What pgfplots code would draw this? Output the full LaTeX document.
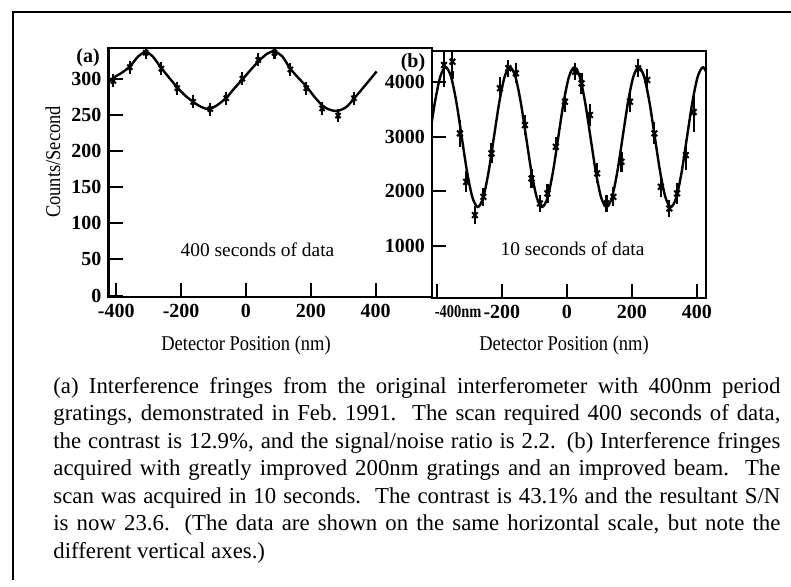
\documentclass[border=0pt]{standalone}
\usepackage{fontspec}
\setmainfont{Liberation Serif}
\newfontfamily\condfont{Liberation Serif}[FakeStretch=0.88]
\newfontfamily\narrowfont{Liberation Serif}[FakeStretch=0.8]
\usepackage{pgfplots}
\usepackage{pgfplotstable}
\pgfplotsset{compat=1.18}

\pgfplotstableread{
x y e
-409 297 4
-358 316 4
-309 336 4
-261 314 4
-212 287 4
-163 268 4
-110 258 4
-61 273 4
-11 300 4
38 326 4
88 336 4
137 313 4
186 287 4
235 259 4
284 249 4
333 273 4
}\dataA

\pgfplotstableread{
x y
-424 295
-410 301
-384 308
-358 317
-332 331
-309 337
-288 331
-263 316
-238 302
-212 288
-188 277
-163 268
-138 261
-115 258
-90 263
-60 274
-35 287
-8 300.5
18 314
43 326
67 335
88 337.5
112 331
136 314.4
162 301
187 289
213 274
240 261.3
263 256.5
283 255.5
310 261
336 274
370 292
403 310
}\curveA

\pgfplotstableread{
x y e
-378 4312 330
-352 4373 250
-329 3058 180
-310 2171 120
-283 1560 90
-257 1896 90
-232 2692 110
-206 3885 130
-180 4252 80
-157 4160 110
-129 3211 110
-109 2233 100
-83 1774 80
-60 1958 100
-34 2813 100
-6 3639 110
25 4190 80
45 3976 120
71 3395 120
93 2325 110
122 1774 80
143 1896 100
168 2538 110
194 3639 120
219 4252 90
247 4037 130
269 3059 130
289 2080 120
315 1683 90
339 1958 120
366 2661 200
390 3450 290
}\dataB

\pgfplotstableread{
x y
-422.5 2990
-406 3630
-389.5 4098.5
-373 4270
-356.5 4098.5
-340 3630
-323.5 2990
-307 2350
-290.5 1881.5
-274 1710
-257.5 1881.5
-241 2350
-224.5 2990
-208 3630
-191.5 4098.5
-175 4270
-158.5 4098.5
-142 3630
-125.5 2990
-109 2350
-92.5 1881.5
-76 1710
-59.5 1881.5
-43 2350
-26.5 2990
-10 3630
6.5 4098.5
23 4270
39.5 4098.5
56 3630
72.5 2990
89 2350
105.5 1881.5
122 1710
138.5 1881.5
155 2350
171.5 2990
188 3630
204.5 4098.5
221 4270
237.5 4098.5
254 3630
270.5 2990
287 2350
303.5 1881.5
320 1710
336.5 1881.5
353 2350
369.5 2990
386 3630
402.5 4098.5
419 4270
435.5 4098.5
}\curveB

\pgfplotsset{
  fringe/.style={
    scale only axis, anchor=south west,
    axis line style={line width=1.1pt},
    every tick/.style={black, line width=1pt},
    major tick length=7.2pt,
    tick align=inside,
    xtick pos=bottom, ytick pos=left,
    ticklabel style={font=\fontsize{10}{12}\selectfont\bfseries},
    xtick={-400,-200,0,200,400},
  },
  errpts/.style={black, only marks, mark=x, mark size=#1,
    mark options={line width=1pt},
    error bars/.cd, y dir=both, y explicit,
    error bar style={line width=1pt},
    error mark options={mark size=#1, line width=1.1pt}},
}

\begin{document}
\begin{tikzpicture}
\path[use as bounding box] (0,0) rectangle (395.5pt,293pt);
% frame
\draw[line width=1.4pt] (6.5pt,3pt) -- (6.5pt,287pt);
\draw[line width=1.4pt] (5.8pt,287pt) -- (395.5pt,287pt);

\begin{axis}[fringe,
  at={(54.25pt,144.5pt)}, width=161.75pt, height=124.5pt,
  xmin=-424, xmax=574, ymin=-2, ymax=342.5,
  xticklabels={-400,-200,0,200,400},
  ytick={0,50,100,150,200,250,300},
  yticklabels={0,50,100,150,200,250,300},
]
\addplot[black, smooth, line width=1.2pt] table[x=x,y=y] {\curveA};
\addplot[errpts=1.8pt] table[x=x,y=y,y error=e] {\dataA};
\end{axis}

\begin{axis}[fringe,
  at={(216pt,144pt)}, width=137pt, height=123.5pt,
  xmin=-415, xmax=428, ymin=42, ymax=4568,
  xticklabels={\makebox[0pt][l]{\narrowfont\bfseries\fontsize{9}{12}\selectfont\hspace{-1pt}-400nm},-200,0,200,400},
  ytick={1000,2000,3000,4000},
  yticklabels={1000,2000,3000,4000},
]
\addplot[black, smooth, line width=1.2pt] table[x=x,y=y] {\curveB};
\addplot[errpts=2pt] table[x=x,y=y,y error=e] {\dataB};
\end{axis}

\node[font=\fontsize{10}{12}\selectfont\bfseries] at (44pt,264pt) {(a)};
\node[font=\fontsize{10}{12}\selectfont\bfseries] at (206.5pt,261.5pt) {(b)};
\node[font=\fontsize{9.7}{12}\selectfont] at (128.75pt,168pt) {400 seconds of data};
\node[font=\fontsize{9.7}{12}\selectfont] at (286.25pt,168.5pt) {10 seconds of data};
\node[font=\condfont\fontsize{10.5}{12}\selectfont, rotate=90] at (26.5pt,212pt) {Counts/Second};
\node[font=\condfont\fontsize{10.5}{12}\selectfont] at (123pt,120.5pt) {Detector Position (nm)};
\node[font=\condfont\fontsize{10.5}{12}\selectfont] at (282pt,120.5pt) {Detector Position (nm)};

\node[anchor=base west, inner sep=0pt] at (26.5pt,96.5pt) {\parbox[t]{363.5pt}{\fontsize{11.4}{13.75}\selectfont\tolerance=9999\hbadness=10000\parindent=0pt
(a) Interference fringes from the original interferometer with 400nm period\linebreak
gratings, demonstrated in Feb.\ 1991.\ \ The scan required 400 seconds of data,\linebreak
the contrast is 12.9\%, and the signal/noise ratio is 2.2. (b) Interference fringes\linebreak
acquired with greatly improved 200nm gratings and an improved beam.\ \ The\linebreak
scan was acquired in 10 seconds.\ \ The contrast is 43.1\% and the resultant S/N\linebreak
is now 23.6. (The data are shown on the same horizontal scale, but note the\linebreak
different vertical axes.)}};
\end{tikzpicture}
\end{document}
